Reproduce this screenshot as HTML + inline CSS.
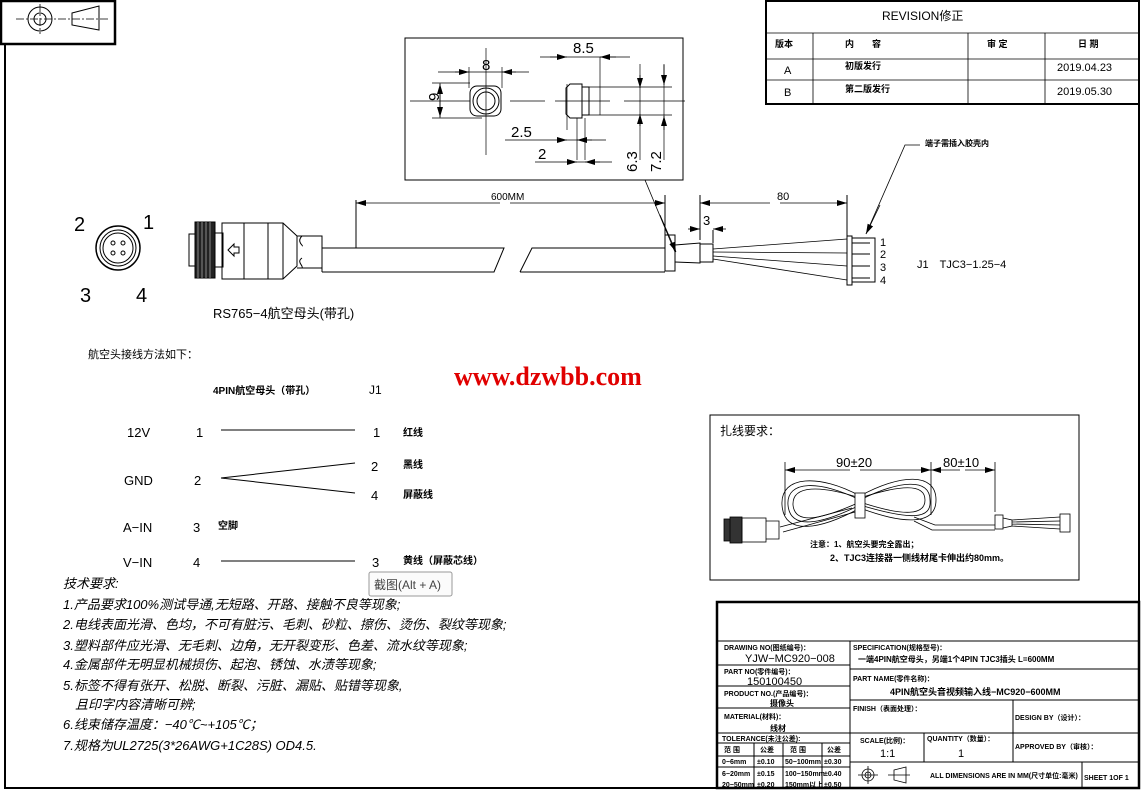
<!DOCTYPE html>
<html><head><meta charset="utf-8"><style>
html,body{margin:0;padding:0;background:#fff}
svg{display:block}
text{font-family:"Liberation Sans","Noto Sans CJK SC",sans-serif;fill:#000}
.b{font-weight:bold}
.s7{font-size:7px;font-weight:bold}
</style></head><body>
<svg width="1143" height="790" viewBox="0 0 1143 790" xmlns="http://www.w3.org/2000/svg">
<defs>
<marker id="a" viewBox="0 0 10 6" refX="10" refY="3" markerWidth="10" markerHeight="6" orient="auto-start-reverse" markerUnits="userSpaceOnUse"><path d="M0,0L10,3L0,6z" fill="#000"/></marker>
</defs>
<g fill="none" stroke="#000">
<!-- frame -->
<path d="M5,44V788H1139V0" stroke-width="2"/>
<rect x="1" y="1" width="114" height="43" stroke-width="2.5"/>
<circle cx="40" cy="19" r="12"/><circle cx="40" cy="19" r="6"/>
<path d="M40,4V34M16,19H110" stroke-width="0.8" stroke-dasharray="8,2,2,2"/>
<path d="M72,13L99,6V30L72,25Z"/>
<!-- revision -->
<rect x="766" y="1" width="373" height="103" stroke-width="2"/>
<path d="M766,33H1139M766,59H1139M766,80H1139M813,33V104M968,33V104M1045,33V104" stroke-width="0.8"/>
</g>
<text x="882" y="20" font-size="12">REVISION修正</text>
<text x="775" y="47" class="s7" style="font-size:9px">版本</text>
<text x="845" y="47" class="b" font-size="9">内　　容</text>
<text x="987" y="47" class="b" font-size="9">审 定</text>
<text x="1078" y="47" class="b" font-size="9">日 期</text>
<text x="784" y="74" font-size="11">A</text><text x="845" y="69" class="b" font-size="9">初版发行</text><text x="1057" y="71" font-size="11">2019.04.23</text>
<text x="784" y="96" font-size="11">B</text><text x="845" y="92" class="b" font-size="9">第二版发行</text><text x="1057" y="95" font-size="11">2019.05.30</text>

<!-- detail box -->
<g fill="none" stroke="#000" stroke-width="1">
<rect x="405" y="38" width="278" height="142"/>
<rect x="470" y="86" width="31" height="30" rx="7"/>
<circle cx="486" cy="101" r="13"/><circle cx="486" cy="101" r="9"/>
<path d="M486,48V155M410,101H470M510,101H545M555,101H610M624,101H685" stroke-width="0.7"/>
<path d="M438,72H529M469,67V88M502,67V88M432,83H470M432,118H482M440,83V118" stroke-width="0.7"/>
<path d="M566,88L570,84H582V118H570L566,114Z"/>
<rect x="582" y="87" width="7" height="28"/>
<path d="M589,87H600V115H589M600,87H672M600,115H672M600,87V57M567,84V130M577,118V160M585,118V160M540,57H630M505,140H606M535,162H612M640,64V160M664,64V160" stroke-width="0.7"/>
</g>
<g stroke="#000" stroke-width="0.8" marker-end="url(#a)">
<line x1="455" y1="72" x2="469" y2="72"/><line x1="516" y1="72" x2="502" y2="72"/>
<line x1="440" y1="101" x2="440" y2="84"/><line x1="440" y1="101" x2="440" y2="117"/>
<line x1="550" y1="57" x2="567" y2="57"/><line x1="616" y1="57" x2="600" y2="57"/>
<line x1="562" y1="140" x2="567" y2="140"/><line x1="592" y1="140" x2="577" y2="140"/>
<line x1="567" y1="162" x2="577" y2="162"/><line x1="600" y1="162" x2="585" y2="162"/>
<line x1="640" y1="75" x2="640" y2="88"/><line x1="640" y1="126" x2="640" y2="114"/>
<line x1="664" y1="65" x2="664" y2="85"/><line x1="664" y1="130" x2="664" y2="116"/>
</g>
<text x="482" y="70" font-size="15">8</text>
<text x="432" y="108" font-size="15" transform="rotate(-90 432 101)">9</text>
<text x="573" y="53" font-size="15">8.5</text>
<text x="511" y="137" font-size="15">2.5</text>
<text x="538" y="159" font-size="15">2</text>
<text x="637" y="172" font-size="15" transform="rotate(-90 637 172)">6.3</text>
<text x="661" y="172" font-size="15" transform="rotate(-90 661 172)">7.2</text>

<!-- pinout -->
<g fill="none" stroke="#000">
<circle cx="118" cy="248" r="22" stroke-width="1.5"/><circle cx="118" cy="248" r="18"/><circle cx="118" cy="248" r="15"/>
<circle cx="113" cy="243" r="2"/><circle cx="123" cy="243" r="2"/><circle cx="113" cy="253" r="2"/><circle cx="123" cy="253" r="2"/>
</g>
<text x="74" y="231" font-size="20">2</text><text x="143" y="229" font-size="20">1</text>
<text x="80" y="302" font-size="20">3</text><text x="136" y="302" font-size="20">4</text>
<!-- main connector -->
<g fill="none" stroke="#000">
<rect x="189" y="234" width="8" height="32"/>
<rect x="195" y="222" width="20" height="56" fill="#222"/>
<path d="M198,222V278M202,222V278M206,222V278M210,222V278" stroke="#888"/>
<rect x="215" y="233" width="8" height="34"/>
<rect x="222" y="223" width="22" height="56"/>
<path d="M228,250L234,244V247H239V253H234V256Z"/>
<path d="M244,223H268V279H244M268,223H283L297,236V266L283,279H268M283,223V279"/>
<path d="M297,236H322V268H297M302,236C296,242 304,246 302,246M302,258C296,262 304,266 302,268"/>
<path d="M322,248H504L494,272H322" /><path d="M322,248V272"/>
<path d="M520,272L532,248H665M520,272H665"/>
<path d="M356,200V248"/>
<rect x="665" y="235" width="10" height="36"/>
<path d="M675,245L700,243V263L675,262M700,244H713V262H700"/>
<path d="M713,249L847,239M713,252L847,253M713,256L847,266M713,259L847,280" stroke-width="0.8"/>
<rect x="847" y="236" width="5" height="49"/>
<rect x="852" y="238" width="23" height="44"/>
<path d="M852,243H870M852,254H870M852,266H870M852,278H870"/>
<path d="M665,195V235M847,195V236M700,195V240M713,230V243"/>
<path d="M920,145H905L866,234" stroke-width="0.8"/>
<path d="M645,180L675,252" stroke-width="0.8"/>
</g>
<g stroke="#000" stroke-width="0.8" marker-end="url(#a)">
<line x1="500" y1="203" x2="356" y2="203"/><line x1="510" y1="203" x2="665" y2="203"/>
<line x1="770" y1="203" x2="700" y2="203"/><line x1="780" y1="203" x2="847" y2="203"/>
<line x1="688" y1="229" x2="700" y2="229"/><line x1="726" y1="229" x2="713" y2="229"/>
<line x1="880" y1="205" x2="866" y2="234"/>
<line x1="660" y1="215" x2="676" y2="252"/>
</g>
<text x="491" y="200" font-size="10">600MM</text>
<text x="777" y="200" font-size="11">80</text>
<text x="703" y="225" font-size="13">3</text>
<text x="925" y="146" font-size="8" class="b">端子需插入胶壳内</text>
<text x="880" y="246" font-size="11">1</text><text x="880" y="258" font-size="11">2</text><text x="880" y="271" font-size="11">3</text><text x="880" y="284" font-size="11">4</text>
<text x="917" y="268" font-size="11">J1　TJC3−1.25−4</text>
<text x="213" y="318" font-size="13">RS765−4航空母头(带孔)</text>

<!-- watermark -->
<text x="454" y="385" font-family="Liberation Serif" font-size="26" font-weight="bold" style="fill:#e00000;font-family:'Liberation Serif',serif">www.dzwbb.com</text>

<!-- wiring -->
<text x="88" y="358" font-size="11">航空头接线方法如下：</text>
<text x="213" y="394" font-size="10" class="b">4PIN航空母头（带孔）</text>
<text x="369" y="394" font-size="12">J1</text>
<g font-size="13">
<text x="127" y="437">12V</text><text x="196" y="437">1</text><text x="373" y="437">1</text>
<text x="124" y="485">GND</text><text x="194" y="485">2</text><text x="371" y="471">2</text><text x="371" y="500">4</text>
<text x="123" y="532">A−IN</text><text x="193" y="532">3</text>
<text x="123" y="567">V−IN</text><text x="193" y="567">4</text><text x="372" y="567">3</text>
</g>
<g font-size="10" class="b"><text x="403" y="436">红线</text><text x="403" y="468">黑线</text><text x="403" y="498">屏蔽线</text><text x="218" y="529">空脚</text><text x="403" y="564">黄线（屏蔽芯线）</text></g>
<path d="M221,430H355M221,478L355,463M221,478L355,493M221,561H355" stroke="#000" fill="none"/>

<!-- tech req -->
<g font-size="13" font-style="italic">
<text x="63" y="588">技术要求:</text>
<text x="63" y="609">1.产品要求100%测试导通,无短路、开路、接触不良等现象;</text>
<text x="63" y="629">2.电线表面光滑、色均，不可有脏污、毛刺、砂粒、擦伤、烫伤、裂纹等现象;</text>
<text x="63" y="650">3.塑料部件应光滑、无毛刺、边角，无开裂变形、色差、流水纹等现象;</text>
<text x="63" y="669">4.金属部件无明显机械损伤、起泡、锈蚀、水渍等现象;</text>
<text x="63" y="690">5.标签不得有张开、松脱、断裂、污脏、漏贴、贴错等现象,</text>
<text x="75" y="709">且印字内容清晰可辨;</text>
<text x="63" y="729">6.线束储存温度：−40℃~+105℃；</text>
<text x="63" y="750">7.规格为UL2725(3*26AWG+1C28S) OD4.5.</text>
</g>
<rect x="369" y="572" width="83" height="24" rx="2" fill="#fbfbfb" stroke="#999"/>
<text x="374" y="589" font-size="12" style="fill:#444">截图(Alt + A)</text>

<!-- binding box -->
<rect x="710" y="415" width="369" height="165" fill="none" stroke="#000"/>
<text x="720" y="435" font-size="12">扎线要求：</text>
<g fill="none" stroke="#000" stroke-width="0.8">
<path d="M785,462V515M931,462V515M995,462V512"/>
<path d="M860,505C820,525 790,530 788,505C786,480 820,480 860,500C900,480 930,478 930,500C932,520 910,520 860,505"/>
<path d="M860,502C820,520 795,525 793,505C792,485 820,485 860,498C900,485 925,483 925,500C925,515 905,517 860,502"/>
<path d="M860,508C820,530 784,536 782,505C780,475 820,474 860,496C900,474 936,472 936,500C936,525 905,525 860,508"/>
<rect x="855" y="493" width="10" height="25" fill="#fff"/>
<path d="M780,527L852,508M783,532L855,512M914,517L935,525H995M914,521L932,530H995"/>
<rect x="995" y="515" width="8" height="14"/><path d="M1003,518L1012,520V526L1003,528M1012,520L1060,517M1012,522L1060,521M1012,524L1060,525M1012,526L1060,529"/>
<rect x="1060" y="514" width="10" height="18"/>
<rect x="724" y="519" width="8" height="22" fill="#333"/><rect x="730" y="517" width="12" height="26" fill="#333"/>
<rect x="742" y="518" width="24" height="24"/><path d="M766,521H779V539H766"/>
</g>
<g stroke="#000" stroke-width="0.8" marker-end="url(#a)">
<line x1="850" y1="470" x2="785" y2="470"/><line x1="860" y1="470" x2="931" y2="470"/>
<line x1="960" y1="470" x2="931" y2="470"/><line x1="965" y1="470" x2="995" y2="470"/>
</g>
<text x="836" y="467" font-size="13">90±20</text>
<text x="943" y="467" font-size="13">80±10</text>
<text x="810" y="547" font-size="8" class="b">注意：1、航空头要完全露出；</text>
<text x="830" y="561" font-size="9" class="b">2、TJC3连接器一侧线材尾卡伸出约80mm。</text>

<!-- title block -->
<g fill="none" stroke="#000">
<rect x="717" y="602" width="422" height="186" stroke-width="2.5"/>
<path d="M717,641H1139M850,641V788M717,665H850M717,686H850M717,708H850M717,733H850M717,743H850M717,756H850M717,767H850M754,743V788M783,743V788M822,743V788M850,669H1139M850,700H1139M850,733H1139M850,762H1139M1013,700V762M924,733V762M1082,762V788" stroke-width="1"/>
</g>
<text x="724" y="650" class="s7" font-size="7">DRAWING NO(图纸编号)：</text>
<text x="745" y="662" font-size="11">YJW−MC920−008</text>
<text x="724" y="674" class="s7" font-size="7">PART NO(零件编号)：</text>
<text x="747" y="685" font-size="11">150100450</text>
<text x="724" y="696" class="s7" font-size="7">PRODUCT NO.(产品编号)：</text>
<text x="770" y="706" class="b" font-size="8">摄像头</text>
<text x="724" y="719" class="s7" font-size="7">MATERIAL(材料)：</text>
<text x="770" y="731" class="b" font-size="8">线材</text>
<text x="722" y="741" class="s7" font-size="7">TOLERANCE(未注公差):</text>
<g class="s7" font-size="6.5"><text x="724" y="752">范 围</text><text x="760" y="752">公差</text><text x="790" y="752">范 围</text><text x="827" y="752">公差</text>
<text x="722" y="764">0−6mm</text><text x="757" y="764">±0.10</text><text x="785" y="764">50−100mm</text><text x="824" y="764">±0.30</text>
<text x="722" y="776">6−20mm</text><text x="757" y="776">±0.15</text><text x="785" y="776">100−150mm</text><text x="824" y="776">±0.40</text>
<text x="722" y="787">20−50mm</text><text x="757" y="787">±0.20</text><text x="785" y="787">150mm以上</text><text x="824" y="787">±0.50</text></g>
<text x="853" y="650" class="s7" font-size="7">SPECIFICATION(规格型号)：</text>
<text x="858" y="662" class="b" font-size="8">一端4PIN航空母头，另端1个4PIN TJC3插头 L=600MM</text>
<text x="853" y="681" class="s7" font-size="7">PART NAME(零件名称)：</text>
<text x="890" y="695" class="b" font-size="9">4PIN航空头音视频输入线−MC920−600MM</text>
<text x="853" y="711" class="s7" font-size="7">FINISH（表面处理）：</text>
<text x="1015" y="720" class="s7" font-size="7">DESIGN BY（设计）：</text>
<text x="860" y="743" class="s7" font-size="7">SCALE(比例)：</text>
<text x="880" y="757" font-size="11">1:1</text>
<text x="927" y="741" class="s7" font-size="7">QUANTITY（数量）：</text>
<text x="958" y="757" font-size="11">1</text>
<text x="1015" y="749" class="s7" font-size="7">APPROVED BY（审核）：</text>
<g fill="none" stroke="#000" stroke-width="0.8"><circle cx="868" cy="775" r="6"/><circle cx="868" cy="775" r="3"/><path d="M868,766V784M858,775H878M888,775H910M894,770L906,767V783L894,780Z"/></g>
<text x="930" y="778" class="s7" font-size="6.5">ALL DIMENSIONS ARE IN MM(尺寸单位:毫米)</text>
<text x="1084" y="780" class="s7" font-size="7">SHEET  1OF   1</text>
</svg>
</body></html>
